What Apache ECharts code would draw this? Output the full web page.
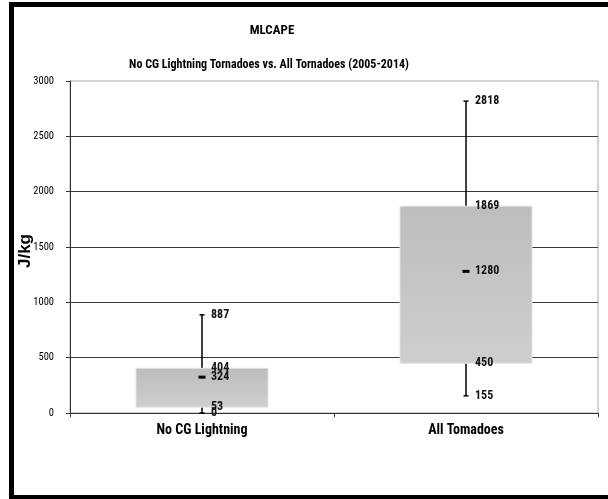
<!DOCTYPE html>
<html><head><meta charset="utf-8">
<script src="https://cdn.jsdelivr.net/npm/echarts@6/dist/echarts.min.js"></script>
<style>html,body{margin:0;padding:0;background:#fff}#c{width:608px;height:499px}</style>
</head><body><div id="c"></div>
<script>
const categories = ['No CG Lightning', 'All Tomadoes'];
const maxVals = [887, 2818];
const q3Vals = [404, 1869];
const medianVals = [324, 1280];
const q1Vals = [53, 450];
const minVals = [0, 155];
const yTicks = [0, 500, 1000, 1500, 2000, 2500, 3000];
const yAxisTitle = 'J/kg';

const NARROW = '"Roboto Condensed","DejaVu Sans Condensed",sans-serif';
const chart = echarts.init(document.getElementById('c'));
const data = categories.map((c, i) => [i, minVals[i], q1Vals[i], medianVals[i], q3Vals[i], maxVals[i]]);

chart.setOption({
  animation: false,
  backgroundColor: '#fff',
  title: [
    {text: 'MLCAPE', left: 267, top: 19, textAlign: 'center',
     textStyle: {fontFamily: NARROW, fontWeight: 'bold', fontSize: 13, color: '#000'}},
    {text: 'No CG Lightning Tornadoes vs. All Tornadoes (2005-2014)', left: 264, top: 54, textAlign: 'center',
     textStyle: {fontFamily: NARROW, fontWeight: 'bold', fontSize: 12, color: '#000'}}
  ],
  graphic: [
    {type: 'rect', shape: {x: 9, y: 2, width: 5, height: 497}, style: {fill: '#000'}},
    {type: 'rect', shape: {x: 9, y: 2, width: 599, height: 5}, style: {fill: '#000'}},
    {type: 'rect', shape: {x: 9, y: 495, width: 599, height: 4}, style: {fill: '#000'}},
    {type: 'text', x: 25, y: 251, rotation: Math.PI / 2,
     style: {text: yAxisTitle, align: 'center', verticalAlign: 'middle',
             font: 'bold 17px "Liberation Sans", Arial, sans-serif', fill: '#000'}}
  ],
  grid: {left: 70, right: 10, top: 81, bottom: 86, containLabel: false, outerBoundsMode: 'none',
         show: true, borderColor: '#a8a8a8', borderWidth: 1},
  xAxis: {
    type: 'category', data: categories,
    axisLine: {lineStyle: {color: '#333'}},
    axisTick: {show: true, length: 4, lineStyle: {color: '#333'}},
    axisLabel: {fontFamily: NARROW, fontWeight: 'bold', fontSize: 14, color: '#000', margin: 10},
    splitLine: {show: false}
  },
  yAxis: {
    type: 'value', min: yTicks[0], max: yTicks[yTicks.length - 1], interval: 500,
    axisLine: {show: true, lineStyle: {color: '#333'}},
    axisTick: {show: true, length: 4, lineStyle: {color: '#333'}},
    axisLabel: {fontFamily: NARROW, fontSize: 10.5, color: '#000', margin: 16, formatter: v => String(v)},
    splitLine: {show: true, showMaxLine: false, lineStyle: {color: '#3a3a3a', width: 1}}
  },
  series: [{
    type: 'custom',
    data: data,
    encode: {x: 0, y: [1, 2, 3, 4, 5]},
    renderItem: function (params, api) {
      const i = api.value(0);
      const vmin = api.value(1), vq1 = api.value(2), vmed = api.value(3), vq3 = api.value(4), vmax = api.value(5);
      const band = api.size([1, 0])[0];
      const pMin = api.coord([i, vmin]), pQ1 = api.coord([i, vq1]), pMed = api.coord([i, vmed]),
            pQ3 = api.coord([i, vq3]), pMax = api.coord([i, vmax]);
      const cx = pMin[0];
      const w = band * 0.5;
      const lbl = (v, y) => ({type: 'text', z2: 10,
        style: {text: String(v), x: cx + 9, y: y, textVerticalAlign: 'middle', verticalAlign: 'middle',
          fontFamily: NARROW, fontWeight: 'bold', fontSize: 12, fill: '#111'}});
      return {type: 'group', children: [
        {type: 'line', shape: {x1: cx, y1: pQ3[1], x2: cx, y2: pMax[1]}, style: {stroke: '#000', lineWidth: 1.5}},
        {type: 'line', shape: {x1: cx - 2.5, y1: pMax[1], x2: cx + 2.5, y2: pMax[1]}, style: {stroke: '#000', lineWidth: 1.5}},
        {type: 'line', shape: {x1: cx, y1: pMin[1], x2: cx, y2: pQ1[1]}, style: {stroke: '#000', lineWidth: 1.5}},
        {type: 'line', shape: {x1: cx - 2.5, y1: pMin[1], x2: cx + 2.5, y2: pMin[1]}, style: {stroke: '#000', lineWidth: 1.5}},
        {type: 'rect', shape: {x: cx - w / 2, y: pQ3[1], width: w, height: pQ1[1] - pQ3[1]},
          style: {fill: new echarts.graphic.LinearGradient(0, 0, 0, 1, [{offset: 0, color: '#bdbdbd'}, {offset: 1, color: '#cecece'}]),
                  stroke: '#e2e2e2', lineWidth: 1}},
        {type: 'rect', shape: {x: cx - 3.5, y: pMed[1] - 1.5, width: 7, height: 3}, style: {fill: '#000'}},
        lbl(vmax, pMax[1]), lbl(vq3, pQ3[1]), lbl(vmed, pMed[1]), lbl(vq1, pQ1[1]), lbl(vmin, pMin[1])
      ]};
    }
  }]
});
</script></body></html>
